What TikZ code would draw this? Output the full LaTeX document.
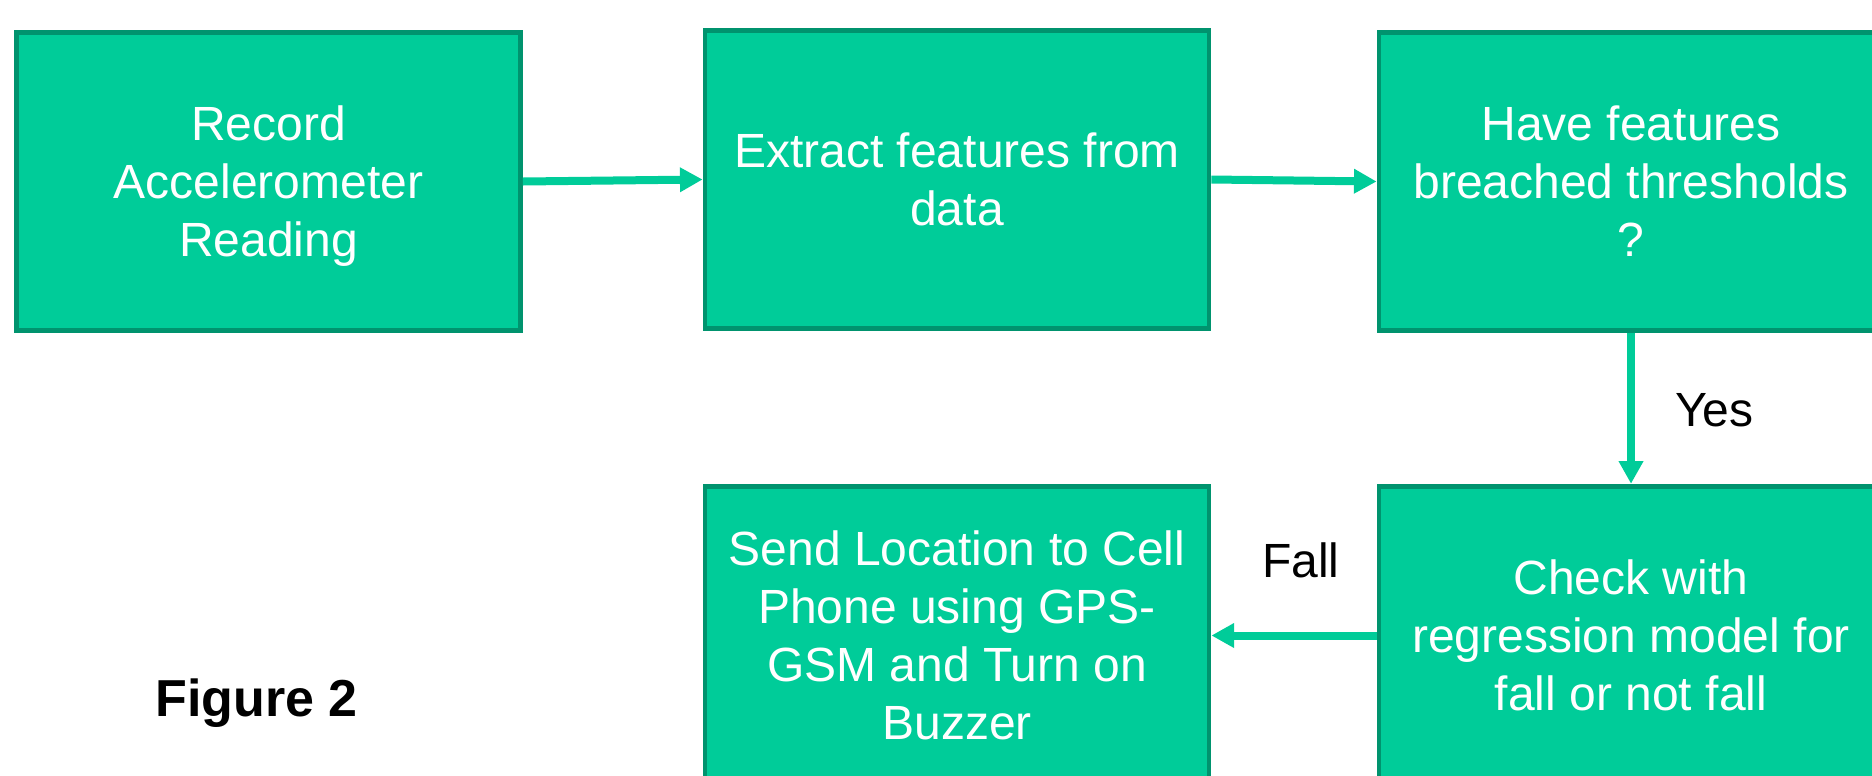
\documentclass[tikz,border=0pt]{standalone}
\usepackage{fontspec}
\setmainfont{Liberation Sans}
\usepackage{tikz}
\usetikzlibrary{arrows.meta}

\definecolor{stepfill}{RGB}{0,204,153}
\definecolor{stepline}{RGB}{0,147,110}

\tikzset{
  stepbox/.style={draw=stepline, fill=stepfill, line width=3.6pt,
    minimum width=378pt, minimum height=224pt, align=center,
    text depth=0pt, text=white, font=\fontsize{36}{43.5}\selectfont},
  flow/.style={draw=stepfill, line width=6pt,
    -{Triangle[length=17pt,width=17.5pt]}},
  flowlabel/.style={inner sep=0pt, font=\fontsize{36}{43.5}\selectfont}
}

\begin{document}
\begin{tikzpicture}[x=0.75pt,y=0.75pt,yscale=-1,xscale=1]
  \useasboundingbox (0,0) rectangle (1872,775);
  \clip (0,0) rectangle (1872,775);

  %Shape: Rectangle [record]
  \node [stepbox] (record) at (268.5,181.5) {Record\\Accelerometer\\Reading};
  %Shape: Rectangle [extract]
  \node [stepbox] (extract) at (957,179.5) {Extract features from\\data};
  %Shape: Rectangle [breach]
  \node [stepbox] (breach) at (1631,181.5) {Have features\\breached thresholds\\?};
  %Shape: Rectangle [check]
  \node [stepbox] (check) at (1631,635.5) {Check with\\regression model for\\fall or not fall};
  %Shape: Rectangle [alert]
  \node [stepbox] (alert) at (957,635.5) {Send Location to Cell\\Phone using GPS-\\GSM and Turn on\\Buzzer};

  %Straight Lines
  \draw [flow] (record.east) -- (extract.west);
  \draw [flow] (extract.east) -- (breach.west);
  \draw [flow] (breach.south) -- (check.north);
  \draw [flow] (check.west) -- (alert.east);

  % Text Node
  \node [flowlabel, anchor=base west] (yes) at (1675,426) {Yes};
  % Text Node
  \node [flowlabel, anchor=base west] (fall) at (1262,577) {Fall};
  % Text Node
  \node [flowlabel, anchor=base west, font=\fontsize{39}{47}\selectfont\bfseries] (fig) at (155,716) {Figure 2};
\end{tikzpicture}
\end{document}
